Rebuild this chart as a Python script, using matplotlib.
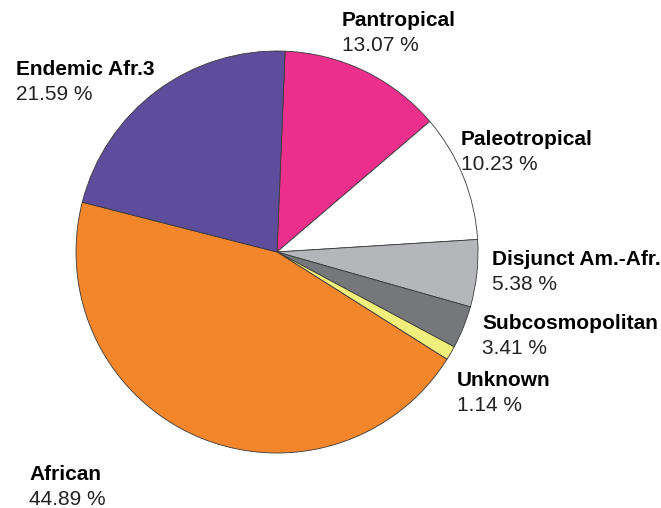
import matplotlib.pyplot as plt

plt.rcParams['font.family'] = ['Liberation Sans', 'DejaVu Sans']

categories = ['Pantropical', 'Paleotropical', 'Disjunct Am.-Afr.', 'Subcosmopolitan',
              'Unknown', 'African', 'Endemic Afr.3']
shares = [13.07, 10.23, 5.38, 3.41, 1.14, 44.89, 21.59]
colors = ['#ec2e8c', '#ffffff', '#b4b6b9', '#76777a', '#f1ef7c', '#f3852b', '#5e4c9c']

# label anchor (left, top) in pixels from the top-left corner
label_pos = [(342, 11), (461, 130), (492, 250), (482, 314), (457, 371), (29, 465), (16, 60)]

W, H = 661, 508
fig = plt.figure(figsize=(W / 100, H / 100), dpi=100)
ax = fig.add_axes([0, 0, 1, 1])

ax.pie(shares, colors=colors, startangle=87.7, counterclock=False,
       center=(277, H - 252), radius=201, frame=True,
       wedgeprops=dict(edgecolor='#3a3a3a', linewidth=0.6))
ax.set_xlim(0, W)
ax.set_ylim(0, H)
ax.set_aspect('equal')
ax.axis('off')

for name, val, (lx, ly) in zip(categories, shares, label_pos):
    ax.text(lx, H - ly, name, fontsize=15, fontweight='bold', ha='left', va='top')
    ax.text(lx, H - ly - 25, f'{val:.2f} %', fontsize=15, ha='left', va='top', color='#222222')

fig.savefig('out.png', dpi=100)
